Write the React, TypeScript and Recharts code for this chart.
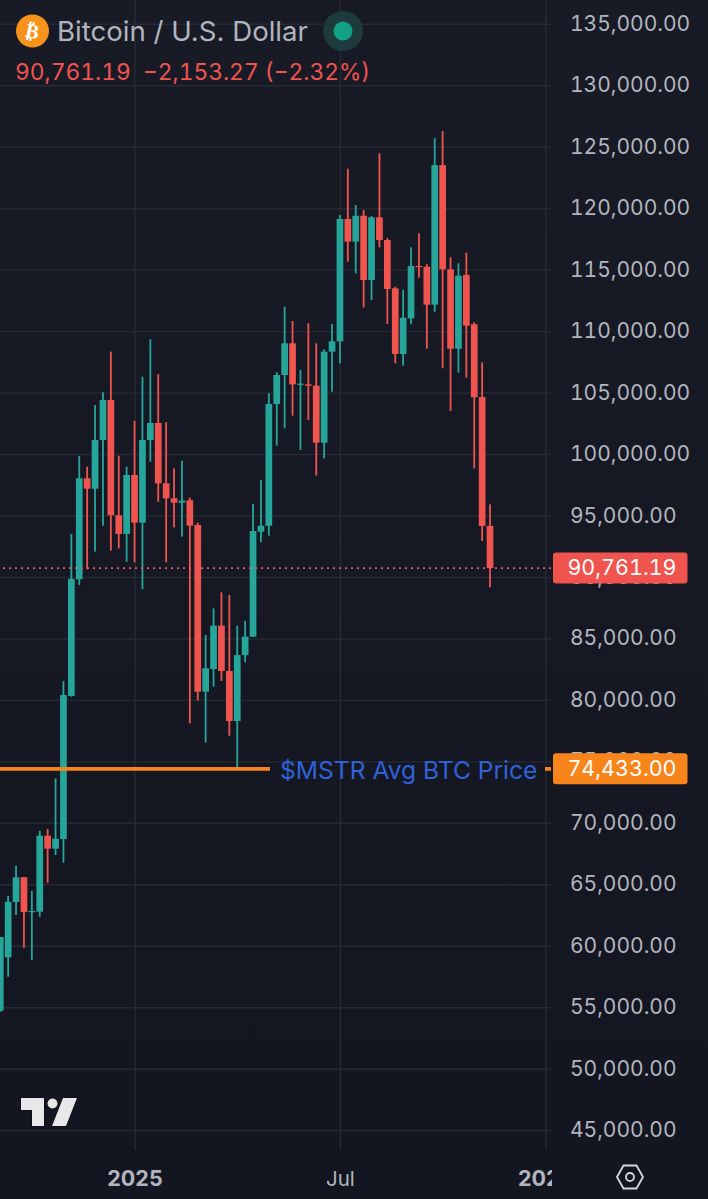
// App.tsx - BTC/USD weekly candles, TradingView mobile look
import React from "react";
import {
  Bar,
  CartesianGrid,
  ComposedChart,
  ReferenceLine,
  XAxis,
  YAxis,
} from "recharts";

const opens = [
  54750, 59100, 63600, 65610, 62790, 62810, 68990, 67940, 68720, 80360,
  89850, 98070, 97220, 101180, 104440, 95060, 93540, 98340, 94460, 101180,
  102570, 97660, 96440, 96080, 96280, 94270, 80710, 82550, 86080, 82390,
  78320, 83690, 85180, 93720, 94210, 104110, 106470, 109050, 105710, 105710,
  105600, 100960, 108370, 109210, 119160, 117320, 119430, 114200, 119300, 117450,
  113520, 108180, 111080, 115340, 115280, 112190, 123550, 115070, 108610, 114610,
  110600, 104680, 94190,
];
const closes = [
  60750, 63620, 65610, 62790, 62870, 68990, 67940, 68750, 80440, 89880,
  98070, 97220, 101180, 104440, 95060, 93540, 98340, 94460, 101180, 102570,
  97660, 96440, 96080, 96250, 94210, 80710, 82610, 86080, 82390, 78320,
  83690, 85180, 93780, 94210, 104110, 106470, 109050, 105710, 105770, 105600,
  100960, 108370, 109210, 119160, 117320, 119430, 114200, 119300, 117450, 113470,
  108180, 111130, 115340, 115260, 112190, 123550, 115070, 108610, 114550, 110480,
  104660, 94190, 90761.19,
];
const highs = [
  60750, 64110, 66550, 65650, 64490, 69400, 69540, 73660, 81580, 93540,
  99880, 99010, 104030, 105060, 108370, 99910, 99010, 102750, 106330, 109380,
  106530, 102620, 98880, 99500, 96490, 94460, 85320, 87490, 88790, 88570,
  86080, 86480, 95980, 97930, 104980, 106690, 112030, 110860, 106880, 110680,
  109050, 108560, 110620, 119490, 123250, 120300, 119890, 119400, 124510, 117620,
  113650, 113390, 116860, 118000, 115480, 125730, 126320, 116050, 115560, 116420,
  110760, 107500, 95950,
];
const lows = [
  54650, 57520, 62540, 59880, 58880, 62400, 65170, 67420, 66800, 80300,
  89390, 90660, 92100, 94210, 92180, 92370, 91280, 91230, 89040, 99420,
  96160, 91230, 94080, 93320, 78140, 79980, 76560, 81110, 81580, 77130,
  74480, 83100, 85160, 92860, 93400, 100720, 102140, 103160, 100370, 102810,
  98280, 99690, 105110, 107420, 115690, 114740, 111950, 112570, 116860, 110620,
  107420, 107230, 110600, 114390, 108610, 111620, 107020, 103540, 106660, 106250,
  98880, 92970, 89200,
];

const priceTicks = [
  45000, 50000, 55000, 60000, 65000, 70000, 75000, 80000, 85000, 90000,
  95000, 100000, 105000, 110000, 115000, 120000, 125000, 130000, 135000,
];
const timeTicks = [17, 43, 69];
const timeLabels = ["2025", "Jul", "2026"];

const lastPrice = 90761.19;
const avgPrice = 74433;
const avgLabel = "$MSTR Avg BTC Price";

const candles = opens.map((open, i) => ({
  week: i,
  open,
  close: closes[i],
  high: highs[i],
  low: lows[i],
}));

const timeDomain = [-0.0886, 69.66];
const priceDomain = [43425, 136977];

const COLOR_UP = "#26a69a";
const COLOR_DOWN = "#f0544f";
const COLOR_ORANGE = "#f7851c";
const COLOR_GRID = "#262a35";
const COLOR_TEXT = "#b2b5be";
const FONT = "Inter, sans-serif";
const TABULAR = { fontVariantNumeric: "tabular-nums" } as const;

const fmt = (v: number) =>
  v.toLocaleString("en-US", { minimumFractionDigits: 2, maximumFractionDigits: 2 });

const Candle = (props: any) => {
  const { x, y, width, height, payload } = props;
  const { open, close, high, low } = payload;
  const perUnit = height / (high - low);
  const yOf = (p: number) => y + (high - p) * perUnit;
  const cx = x + width / 2;
  const top = yOf(Math.max(open, close));
  const bottom = yOf(Math.min(open, close));
  const color = close >= open ? COLOR_UP : COLOR_DOWN;
  return (
    <g fill={color}>
      <rect x={cx - 0.9} y={y} width={1.8} height={height} />
      <rect x={cx - 3.35} y={top} width={6.7} height={Math.max(bottom - top, 1.2)} />
    </g>
  );
};

const PriceTick = (props: any) => (
  <text
    x={570}
    y={props.y}
    dy={6.5}
    fill={COLOR_TEXT}
    fontFamily={FONT}
    fontSize={21}
    style={TABULAR}
  >
    {fmt(props.payload.value)}
  </text>
);

const TimeTick = (props: any) => {
  const idx = timeTicks.indexOf(props.payload.value);
  const label = timeLabels[idx];
  return (
    <text
      x={props.x}
      y={1186}
      textAnchor="middle"
      fill={COLOR_TEXT}
      fontFamily={FONT}
      fontSize={label === "Jul" ? 20.5 : 21.5}
      fontWeight={label === "Jul" ? 400 : 700}
      clipPath="url(#timeClip)"
    >
      {label}
    </text>
  );
};

const PriceTag = ({ y, value, color }: { y: number; value: number; color: string }) => (
  <g>
    <rect x={553} y={y - 15.5} width={134.5} height={31} rx={3} fill={color} />
    <text
      x={622}
      y={y + 7}
      textAnchor="middle"
      fill="#fff"
      fontFamily={FONT}
      fontSize={21.5}
      style={TABULAR}
    >
      {fmt(value)}
    </text>
  </g>
);

const LastTag = (props: any) => (
  <PriceTag y={props.viewBox.y} value={lastPrice} color={COLOR_DOWN} />
);

const AvgTag = (props: any) => (
  <g>
    <text
      x={280}
      y={props.viewBox.y + 10}
      fill="#2f62d9"
      fontFamily={FONT}
      fontSize={24.6}
    >
      {avgLabel}
    </text>
    <PriceTag y={props.viewBox.y} value={avgPrice} color={COLOR_ORANGE} />
  </g>
);

export default function App() {
  return (
    <div
      style={{
        position: "absolute",
        left: 0,
        top: 0,
        width: 708,
        height: 1199,
        overflow: "hidden",
        background: "linear-gradient(#181b26, #131621)",
      }}
    >
      <ComposedChart
        width={708}
        height={1199}
        data={candles}
        margin={{ top: 0, right: 0, bottom: 0, left: 0 }}
      >
        <defs>
          <clipPath id="timeClip">
            <rect x={0} y={1150} width={552} height={49} />
          </clipPath>
        </defs>
        <CartesianGrid
          stroke={COLOR_GRID}
          strokeWidth={1.4}
          horizontalValues={priceTicks}
          verticalValues={timeTicks}
        />
        <XAxis
          dataKey="week"
          type="number"
          domain={timeDomain}
          allowDataOverflow
          ticks={timeTicks}
          interval={0}
          height={49}
          axisLine={false}
          tickLine={false}
          tick={<TimeTick />}
        />
        <YAxis
          orientation="right"
          type="number"
          domain={priceDomain}
          allowDataOverflow
          ticks={priceTicks}
          interval={0}
          width={157}
          axisLine={false}
          tickLine={false}
          tick={<PriceTick />}
        />
        <Bar
          dataKey={(d: any) => [d.low, d.high]}
          barSize={7}
          shape={<Candle />}
          isAnimationActive={false}
        />
        <ReferenceLine
          y={lastPrice}
          stroke="#f0566a"
          strokeWidth={1.6}
          strokeDasharray="2 4"
        />
        {/* line is drawn right to left: stub by the tag, gap for the text, long run */}
        <ReferenceLine
          y={avgPrice}
          stroke={COLOR_ORANGE}
          strokeWidth={3.6}
          strokeDasharray="6 275 271"
        />
      </ComposedChart>

      {/* second chart on top, the price tags have to cover the axis labels */}
      <ComposedChart
        width={708}
        height={1199}
        data={candles}
        margin={{ top: 0, right: 157, bottom: 49, left: 0 }}
        style={{ position: "absolute", left: 0, top: 0 }}
      >
        <XAxis dataKey="week" type="number" domain={timeDomain} allowDataOverflow hide />
        <YAxis type="number" domain={priceDomain} allowDataOverflow hide />
        <ReferenceLine y={lastPrice} strokeWidth={0} label={LastTag} />
        <ReferenceLine y={avgPrice} strokeWidth={0} label={AvgTag} />
      </ComposedChart>

      {/* header */}
      <svg
        width={708}
        height={100}
        style={{ position: "absolute", left: 0, top: 0 }}
      >
        <circle cx={32.5} cy={31} r={16.5} fill="#f7931a" />
        <text
          x={32.5}
          y={38}
          textAnchor="middle"
          fill="#fff"
          fontFamily="DejaVu Sans"
          fontWeight={700}
          fontSize={20}
          transform="rotate(12 32.5 31)"
        >
          ₿
        </text>
        <text x={57} y={41} fill={COLOR_TEXT} fontFamily={FONT} fontSize={27.6}>
          Bitcoin / U.S. Dollar
        </text>
        <circle cx={343} cy={31} r={20} fill="#1f3a3d" />
        <circle cx={343} cy={31} r={9.5} fill="#12a184" />
        <text
          x={15}
          y={80}
          fill={COLOR_DOWN}
          fontFamily={FONT}
          fontSize={22.8}
          xmlSpace="preserve"
          style={TABULAR}
        >
          {"90,761.19  −2,153.27 (−2.32%)"}
        </text>
      </svg>

      {/* TradingView mark and settings icon */}
      <svg
        width={708}
        height={1199}
        style={{ position: "absolute", left: 0, top: 0, pointerEvents: "none" }}
      >
        <g fill="#e8e8e8" stroke="#0c0e14" strokeWidth={1.5} paintOrder="stroke">
          <path d="M21 1098H44V1126H32V1110H21Z" />
          <circle cx={52.5} cy={1103.5} r={5} />
          <path d="M63 1098H77L66 1126H52Z" />
        </g>
        <path
          d="M617 1177L623.5 1165.5H636.5L643 1177L636.5 1188.5H623.5Z"
          fill="none"
          stroke="#d6d8de"
          strokeWidth={1.8}
        />
        <circle cx={630} cy={1177} r={4} fill="none" stroke="#d6d8de" strokeWidth={1.8} />
      </svg>
    </div>
  );
}
